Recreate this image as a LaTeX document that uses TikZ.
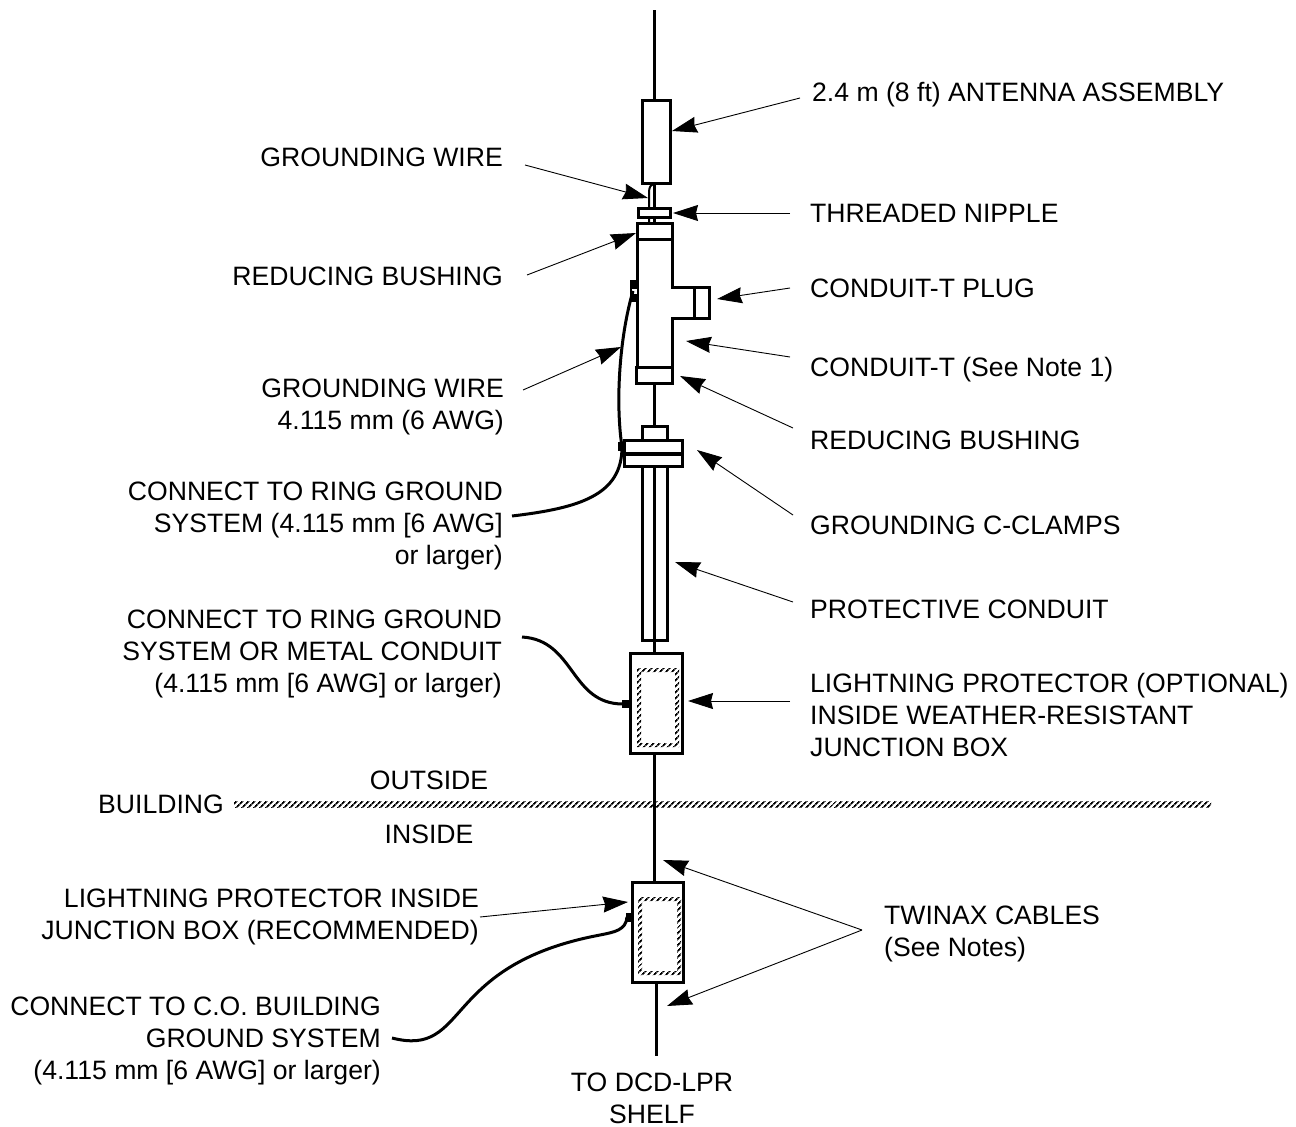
\documentclass[tikz,border=0pt]{standalone}
\usepackage{fontspec}
\setmainfont{Liberation Sans}
\usetikzlibrary{arrows.meta,patterns.meta}
\tikzset{
  part/.style={draw=black,line width=3pt},
  wire/.style={line width=3pt},
  leader/.style={-{Stealth[length=25pt,width=16pt,inset=2pt]},line width=0.9pt},
  lbl/.style={inner sep=0pt,font=\fontsize{26.6}{32}\selectfont},
  lblleft/.style={lbl,anchor=east,align=right},
  lblright/.style={lbl,anchor=west,align=left},
  hatch/.style={pattern={Lines[angle=45,distance=4pt,line width=1.9pt]},pattern color=black}
}
\begin{document}
\begin{tikzpicture}[x=1pt,y=-1pt]
\useasboundingbox (0,0) rectangle (1296,1127);
% Punte delle frecce
\coordinate (tipAntenna) at (672,131);
\coordinate (tipWireTop) at (648,198);
\coordinate (tipNipple) at (673,213);
\coordinate (tipBushTop) at (636,233);
\coordinate (tipPlug) at (717,299);
\coordinate (tipWireLong) at (621,347);
\coordinate (tipTee) at (686,341);
\coordinate (tipBushLow) at (680,376);
\coordinate (tipClamp) at (697,450);
\coordinate (tipConduit) at (675,562);
\coordinate (tipProtOut) at (688,701);
\coordinate (tipTwinTop) at (663,860);
\coordinate (tipProtIn) at (628,902);
\coordinate (tipTwinLow) at (667,1006);
\coordinate (endRing) at (622,447);
\coordinate (endMetal) at (623,704);
\coordinate (endBuilding) at (627,917);

% Cavo
\draw[wire] (654,10) -- (654,100);
\draw[wire] (654,183) -- (654,223);
\draw[wire] (654,383) -- (654,426);
\draw[wire] (654,466) -- (654,653);
\draw[wire] (654,753) -- (654,882);
\draw[wire] (656,982) -- (656,1056);
\draw[line width=2pt] (649,223) -- (649,192) .. controls (649,187) and (651,185) .. (654,183);

% Antenna e nipple
\filldraw[part,fill=white] (642,100) rectangle (670,183);
\filldraw[part,fill=white] (638,208) rectangle (670,217);

% Conduit-T
\filldraw[part,fill=white] (637,223) -- (672,223) -- (672,287) -- (709,287) -- (709,318) -- (672,318) -- (672,367) -- (637,367) -- cycle;
\draw[part] (637,239) -- (672,239);
\draw[part] (694,287) -- (694,318);
\filldraw[part,fill=white] (636,367) rectangle (672,383);

% Morsetti e tubo
\filldraw[part,fill=white] (642,426) rectangle (667,440);
\filldraw[part,fill=white] (624,440) rectangle (682,466);
\draw[line width=4pt] (624,454) -- (683,454);
\draw[part] (642,466) -- (642,640) -- (667,640) -- (667,466);

% Scatole
\filldraw[part,fill=white] (630,653) rectangle (682,753);
\path[hatch,even odd rule] (637,668) rectangle (679,747) (641,672) rectangle (675,743);
\filldraw[part,fill=white] (632,882) rectangle (683,982);
\path[hatch,even odd rule] (638,897) rectangle (681,975) (642,901) rectangle (677,971);

% Piastrine di terra
\fill (630,280) rectangle (637,302);
\fill[white] (632,289) rectangle (637,294);
\fill (618,442) rectangle (624,451);
\fill (622,700) rectangle (630,708);
\fill (626,913) rectangle (632,922);

% Parete
\path[hatch] (234,801) rectangle (1211,807);

% Etichette a sinistra
\node[lblleft] (lblWireTop) at (503,157) {GROUNDING WIRE};
\node[lblleft] (lblBushTop) at (503,276) {REDUCING BUSHING};
\node[lblleft] (lblWireLong) at (504,407) {GROUNDING WIRE\\4.115 mm (6 AWG)};
\node[lblleft] (lblRing) at (503,526) {CONNECT TO RING GROUND\\SYSTEM (4.115 mm [6 AWG]\\or larger)};
\node[lblleft] (lblMetal) at (502,654) {CONNECT TO RING GROUND\\SYSTEM OR METAL CONDUIT\\(4.115 mm [6 AWG] or larger)};
\node[lblleft] (lblProtIn) at (479,917) {LIGHTNING PROTECTOR INSIDE\\JUNCTION BOX (RECOMMENDED)};
\node[lblleft] (lblBuildingGnd) at (381,1041) {CONNECT TO C.O. BUILDING\\GROUND SYSTEM\\(4.115 mm [6 AWG] or larger)};

% Etichette a destra
\node[lblright] (lblAntenna) at (812,95) {2.4 m (8 ft) ANTENNA ASSEMBLY};
\node[lblright] (lblNipple) at (810,213) {THREADED NIPPLE};
\node[lblright] (lblPlug) at (810,288) {CONDUIT-T PLUG};
\node[lblright] (lblTee) at (810,370) {CONDUIT-T (See Note 1)};
\node[lblright] (lblBushLow) at (810,440) {REDUCING BUSHING};
\node[lblright] (lblClamp) at (810,525) {GROUNDING C-CLAMPS};
\node[lblright] (lblConduit) at (810,609) {PROTECTIVE CONDUIT};
\node[lblright] (lblProtOut) at (810,715) {LIGHTNING PROTECTOR (OPTIONAL)\\INSIDE WEATHER-RESISTANT\\JUNCTION BOX};
\node[lblright] (lblTwinax) at (884,934) {TWINAX CABLES\\(See Notes)};

% Altre scritte
\node[lbl] (lblOutside) at (429,780) {OUTSIDE};
\node[lbl] (lblInside) at (429,834) {INSIDE};
\node[lblleft] (lblBuilding) at (224,804) {BUILDING};
\node[lbl,align=center] (lblShelf) at (652,1098) {TO DCD-LPR\\SHELF};

% Frecce
\draw[leader] (lblAntenna.west) ++(-12,3) -- (tipAntenna);
\draw[leader] (lblWireTop.east) ++(22,8) -- (tipWireTop);
\draw[leader] (lblNipple.west) ++(-20,0) -- (tipNipple);
\draw[leader] (lblBushTop.east) ++(24,-1) -- (tipBushTop);
\draw[leader] (lblPlug.west) ++(-20,0) -- (tipPlug);
\draw[leader] (lblWireLong.east) ++(19,-17) -- (tipWireLong);
\draw[leader] (lblTee.west) ++(-20,-13) -- (tipTee);
\draw[leader] (lblBushLow.west) ++(-17,-12) -- (tipBushLow);
\draw[leader] (lblClamp.west) ++(-17,-10) -- (tipClamp);
\draw[leader] (lblConduit.west) ++(-17,-7) -- (tipConduit);
\draw[leader] (lblProtOut.west) ++(-20,-14) -- (tipProtOut);
\draw[leader] (lblProtIn.east) ++(1,0) -- (tipProtIn);
\draw[leader] (lblTwinax.west) ++(-22,-4) -- (tipTwinTop);
\draw[leader] (lblTwinax.west) ++(-22,-4) -- (tipTwinLow);

% Fili di terra
\draw[wire] (lblRing.east) ++(9,-10) .. controls (580,508) and (622,495) .. (endRing);
\draw[wire] (endRing) .. controls (615,400) and (620,335) .. (633,291);
\draw[wire] (lblMetal.east) ++(20,-17) .. controls (575,640) and (570,704) .. (endMetal);
\draw[wire] (lblBuildingGnd.east) ++(11,-3) .. controls (470,1058) and (440,965) .. (600,935) .. controls (615,932) and (626,930) .. (endBuilding);
\end{tikzpicture}
\end{document}
